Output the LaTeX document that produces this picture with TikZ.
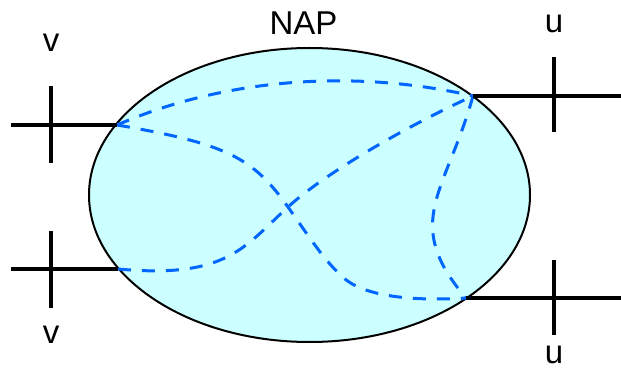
\documentclass[tikz,border=0pt]{standalone}
\usepackage{fontspec}
\setmainfont{Liberation Sans}
\usepackage{xcolor}
\definecolor{napfill}{RGB}{204,255,255}
\definecolor{napblue}{RGB}{0,102,255}
\tikzstyle{wire}    = [line width=3.7pt]
\tikzstyle{rim}     = [line width=2pt, fill=napfill]
\tikzstyle{link}    = [napblue, line width=3pt, dash pattern=on 13pt off 11pt]
\tikzstyle{tag}     = [anchor=base, inner sep=0pt, font=\fontsize{33}{40}\selectfont]

\begin{document}
\begin{tikzpicture}[x=1pt, y=-1pt]
\useasboundingbox (0,0) rectangle (621,371);

\draw[rim] (309.5,195) ellipse (220.5pt and 147pt);

\coordinate (PL1) at (117,125);
\coordinate (PL2) at (118,269);
\coordinate (PR1) at (473,96);
\coordinate (PR2) at (466,298);
\coordinate (X)   at (288,207);
\coordinate (M)   at (345,279);

\coordinate (EL1) at (11,125);
\coordinate (EL2) at (11,269);
\coordinate (ER1) at (621,96);
\coordinate (ER2) at (621,298);

\coordinate (KL1) at (51,124.5);
\coordinate (KL2) at (51,269.5);
\coordinate (KR1) at (554,94.5);
\coordinate (KR2) at (554,297.5);

\draw[link] (PL1) .. controls (230,76) and (360,70) .. (PR1);
\draw[link] (PL1) .. controls (228,144) and (253,158) .. (X) .. controls (310,238) and (325,262) .. (M) .. controls (368,298) and (420,301) .. (PR2);
\draw[link] (PL2) .. controls (227,279) and (244,247) .. (X) .. controls (325,173) and (409,125) .. (PR1);
\draw[link] (PR1) .. controls (446,193) and (401,222) .. (PR2);

\draw[wire] (EL1) -- (PL1);
\draw[wire] (EL2) -- (PL2);
\draw[wire] (PR1) -- (ER1);
\draw[wire] (PR2) -- (ER2);

\draw[wire] (KL1) ++(0,-38.5) -- ++(0,77);
\draw[wire] (KL2) ++(0,-38.5) -- ++(0,77);
\draw[wire] (KR1) ++(0,-37.5) -- ++(0,75);
\draw[wire] (KR2) ++(0,-37.5) -- ++(0,75);

\node[tag] (VT)  at (51,52)    {v};
\node[tag] (VB)  at (51,343)   {v};
\node[tag] (UT)  at (554,33)   {u};
\node[tag] (UB)  at (554,363)  {u};
\node[tag] (NAP) at (303.5,35) {NAP};

\end{tikzpicture}
\end{document}
